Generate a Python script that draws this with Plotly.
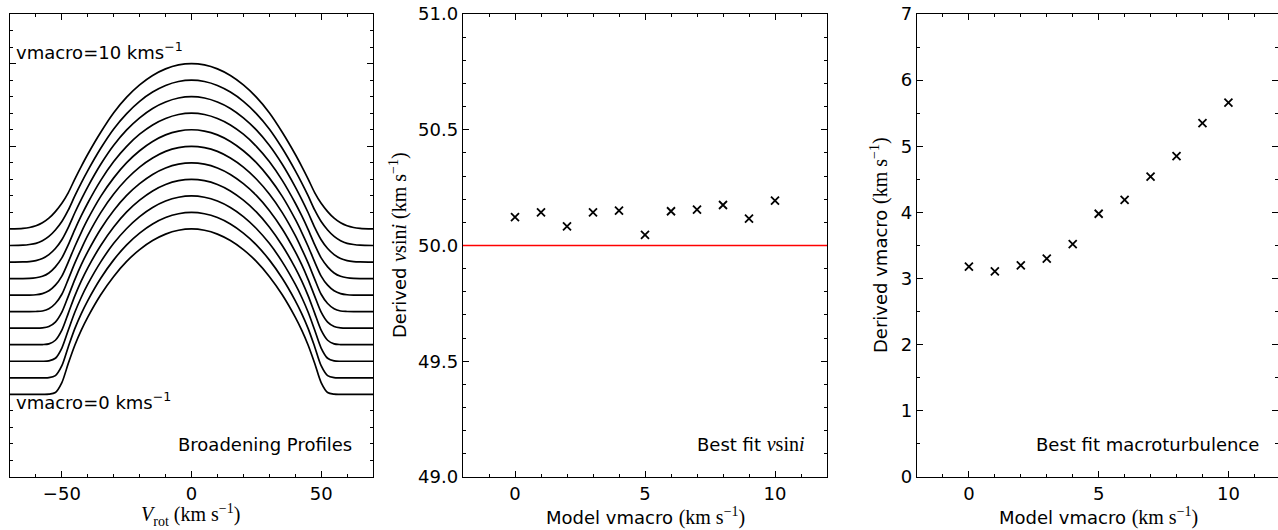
import plotly.graph_objects as go

# ---------------- data ----------------
# Left panel: normalised broadening profiles (half profile, symmetric about 0)
V_HALF = [0, 5, 10, 15, 20, 25, 30, 35, 40, 42.5, 45, 47.5, 50, 52.5, 55, 57.5, 60, 62.5, 65, 70]
PROFILE_VMACRO = [0, 1, 2, 3, 4, 5, 6, 7, 8, 9, 10]
PROFILE_OFFSETS = [0.5, 0.6, 0.7, 0.8, 0.9, 1.0, 1.1, 1.2, 1.3, 1.4, 1.5]
prof_vm0 = [1.000, .992, .969, .930, .875, .804, .713, .602, .467, .388, .297, .188, .071, .011, .001, 0, 0, 0, 0, 0]
prof_vm1 = [1.000, .992, .969, .930, .875, .804, .713, .602, .467, .388, .297, .188, .073, .013, .001, 0, 0, 0, 0, 0]
prof_vm2 = [1.000, .992, .969, .930, .875, .803, .713, .601, .466, .387, .296, .189, .080, .018, .002, 0, 0, 0, 0, 0]
prof_vm3 = [1.000, .992, .969, .930, .874, .803, .712, .600, .465, .386, .295, .191, .088, .027, .005, .001, 0, 0, 0, 0]
prof_vm4 = [1.000, .992, .969, .930, .874, .803, .712, .600, .463, .384, .294, .194, .097, .037, .010, .002, 0, 0, 0, 0]
prof_vm5 = [1.000, .992, .969, .929, .874, .802, .711, .599, .461, .380, .293, .197, .105, .049, .017, .004, .001, 0, 0, 0]
prof_vm6 = [1.000, .992, .969, .929, .873, .801, .709, .597, .459, .380, .294, .201, .115, .060, .026, .009, .002, 0, 0, 0]
prof_vm7 = [1.000, .992, .968, .929, .873, .800, .708, .594, .457, .380, .296, .205, .125, .071, .034, .014, .005, .001, 0, 0]
prof_vm8 = [1.000, .992, .968, .929, .872, .799, .706, .591, .455, .379, .298, .210, .135, .082, .045, .021, .009, .003, .001, 0]
prof_vm9 = [1.000, .992, .968, .928, .872, .798, .705, .588, .453, .379, .300, .215, .145, .094, .055, .029, .013, .006, .002, 0]
prof_vm10 = [1.000, .992, .968, .928, .871, .797, .703, .585, .452, .379, .302, .220, .155, .105, .065, .037, .019, .009, .004, 0]
PROFILES = [prof_vm0, prof_vm1, prof_vm2, prof_vm3, prof_vm4, prof_vm5,
            prof_vm6, prof_vm7, prof_vm8, prof_vm9, prof_vm10]

# Middle / right panels
MODEL_VMACRO = [0, 1, 2, 3, 4, 5, 6, 7, 8, 9, 10]
DERIVED_VSINI = [50.123, 50.143, 50.083, 50.143, 50.151, 50.046, 50.148, 50.155, 50.175, 50.116, 50.194]
TRUE_VSINI = 50.0
DERIVED_VMACRO = [3.18, 3.11, 3.20, 3.30, 3.52, 3.98, 4.19, 4.54, 4.85, 5.35, 5.66]

# ---------------- figure ----------------
W, H = 1278, 530
SANS = "DejaVu Sans"
SERIF = "Liberation Serif"
FS = 18


def px(x):
    return x / W


def py(y):
    return 1 - y / H


fig = go.Figure()

for prof, off in zip(PROFILES, PROFILE_OFFSETS):
    xs = [-v for v in V_HALF[::-1]] + V_HALF[1:]
    ys = [off + p for p in prof[::-1]] + [off + p for p in prof[1:]]
    fig.add_trace(go.Scatter(
        x=xs, y=ys, mode="lines", xaxis="x", yaxis="y",
        line=dict(color="black", width=1.7, shape="spline", smoothing=0.8),
        showlegend=False, hoverinfo="skip"))

marker = dict(symbol="x-thin", size=8, color="black", line=dict(color="black", width=1.8))
fig.add_trace(go.Scatter(x=MODEL_VMACRO, y=DERIVED_VSINI, mode="markers", xaxis="x2", yaxis="y2",
                         marker=marker, showlegend=False))
fig.add_trace(go.Scatter(x=MODEL_VMACRO, y=DERIVED_VMACRO, mode="markers", xaxis="x3", yaxis="y3",
                         marker=marker, showlegend=False))
# invisible trace so that the right-hand tick axis is drawn
fig.add_trace(go.Scatter(x=MODEL_VMACRO, y=DERIVED_VMACRO, mode="markers", xaxis="x3", yaxis="y4",
                         marker=dict(opacity=0), showlegend=False, hoverinfo="skip"))


def axis(**kw):
    d = dict(showline=True, linecolor="black", linewidth=1.4, mirror="ticks",
             ticks="inside", ticklen=6, tickwidth=1.1, tickcolor="black",
             showgrid=False, zeroline=False, automargin=False,
             tickfont=dict(family=SANS, size=FS, color="black"))
    minor_dtick = kw.pop("minor_dtick")
    d["minor"] = dict(ticks="inside", ticklen=3, tickwidth=1, tickcolor="black",
                      dtick=minor_dtick, showgrid=False)
    d.update(kw)
    return d


YDOM = [py(477), py(14)]
fig.update_layout(
    width=W, height=H, margin=dict(l=0, r=0, t=0, b=0, pad=0, autoexpand=False),
    paper_bgcolor="white", plot_bgcolor="white", showlegend=False,
    font=dict(family=SANS, size=FS, color="black"),
    xaxis=axis(domain=[px(10), px(373)], range=[-70, 70], tick0=0, dtick=50, minor_dtick=10, anchor="y"),
    yaxis=axis(domain=YDOM, range=[0, 2.8], tick0=0, dtick=0.5, minor_dtick=0.1,
               showticklabels=False, anchor="x"),
    xaxis2=axis(domain=[px(463), px(827)], range=[-2, 12], tick0=0, dtick=5, minor_dtick=1, anchor="y2"),
    yaxis2=axis(domain=YDOM, range=[49, 51], tick0=49, dtick=0.5, minor_dtick=0.1,
                tickformat=".1f", anchor="x2"),
    xaxis3=axis(domain=[px(917), 1.0], range=[-2, 11.91], tick0=0, dtick=5, minor_dtick=1, anchor="y3"),
    yaxis3=axis(domain=YDOM, range=[0, 7], tick0=0, dtick=1, minor_dtick=0.5, mirror=False, anchor="x3"),
    yaxis4=axis(domain=YDOM, range=[0, 7], tick0=0, dtick=1, minor_dtick=0.5, showline=False,
                showticklabels=False, overlaying="y3", side="right", anchor="x3", mirror=False),
)

fig.add_shape(type="line", xref="x2 domain", x0=0, x1=1, yref="y2", y0=TRUE_VSINI, y1=TRUE_VSINI,
              line=dict(color="red", width=1.4))

MATH = '<span style="font-family:%s;font-size:20px">%%s</span>' % SERIF
KMS = MATH % "(km s<sup>−1</sup>)"
anns = [
    # axis titles
    dict(x=px(190), y=py(515), text=MATH % "<i>V</i><sub>rot</sub> (km s<sup>−1</sup>)",
         xanchor="center", yanchor="middle"),
    dict(x=px(645), y=py(516), text="Model vmacro " + KMS, xanchor="center", yanchor="middle"),
    dict(x=px(1098), y=py(516), text="Model vmacro " + KMS, xanchor="center", yanchor="middle"),
    dict(x=px(398), y=py(245), textangle=-90,
         text="Derived " + MATH % "<i>v</i>sin<i>i</i> (km s<sup>−1</sup>)",
         xanchor="center", yanchor="middle"),
    dict(x=px(879), y=py(245), textangle=-90, text="Derived vmacro " + KMS,
         xanchor="center", yanchor="middle"),
    # in-panel labels
    dict(x=px(14), y=py(51), text="vmacro=10 kms<sup>−1</sup>", xanchor="left", yanchor="middle"),
    dict(x=px(14), y=py(401), text="vmacro=0 kms<sup>−1</sup>", xanchor="left", yanchor="middle"),
    dict(x=px(354), y=py(444), text="Broadening Profiles", xanchor="right", yanchor="middle"),
    dict(x=px(807), y=py(444),
         text="Best fit " + MATH % "<i>v</i>sin<i>i</i>",
         xanchor="right", yanchor="middle"),
    dict(x=px(1261), y=py(444), text="Best fit macroturbulence", xanchor="right", yanchor="middle"),
]
for a in anns:
    a.update(xref="paper", yref="paper", showarrow=False,
             font=dict(family=SANS, size=FS, color="black"))
    fig.add_annotation(**a)

fig.write_html("out.html")
